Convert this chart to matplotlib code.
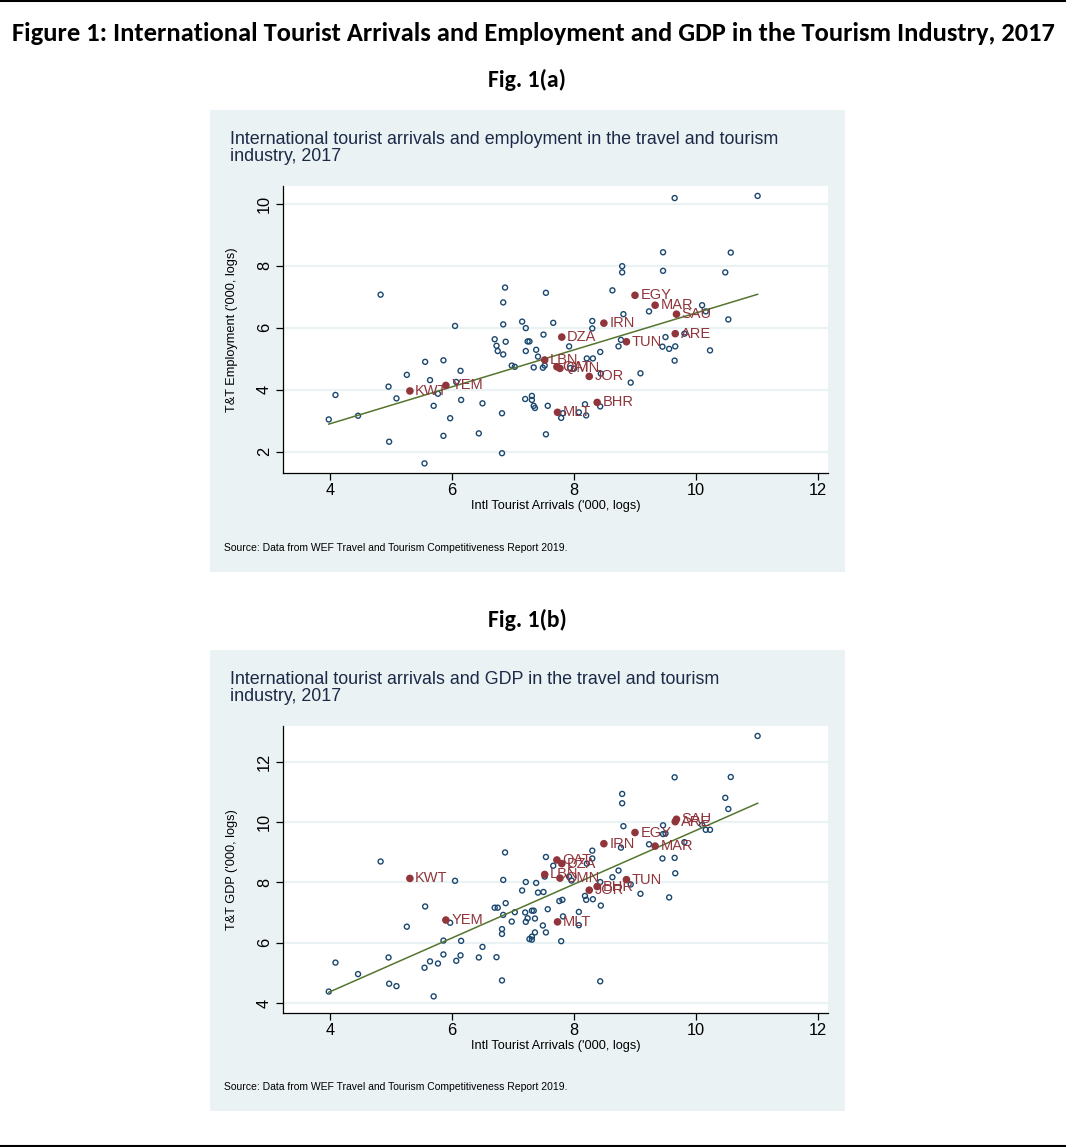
import numpy as np
import matplotlib
matplotlib.use("Agg")
import matplotlib.pyplot as plt
from matplotlib.patches import Rectangle
from matplotlib.lines import Line2D
from matplotlib import font_manager as fm

# ---------------- data ----------------
# Fig 1(a): log arrivals vs log T&T employment (unlabelled countries)
emp_x = [3.98, 4.09, 4.46, 4.83, 4.97, 4.96, 5.09, 5.26, 5.56, 5.55, 5.64, 5.70, 5.77, 5.86, 5.86,
         5.97, 6.05, 6.07, 6.14, 6.15, 6.44, 6.50, 6.70, 6.73, 6.75, 6.84, 6.82, 6.82, 6.84, 6.87,
         6.84, 6.88, 6.98, 7.03, 7.15, 7.21, 7.24, 7.27, 7.21, 7.20, 7.31, 7.31, 7.34, 7.36, 7.38,
         7.41, 7.34, 7.49, 7.52, 7.50, 7.54, 7.57, 7.54, 7.66, 7.92, 7.94, 8.00, 8.21, 8.31, 8.43,
         8.30, 8.30, 8.44, 8.63, 8.79, 8.79, 8.81, 8.77, 8.73, 8.93, 9.09, 9.23, 9.46, 9.46, 9.50,
         9.45, 9.56, 9.66, 9.65, 9.65, 9.81, 10.10, 10.16, 10.23, 10.48, 10.57, 10.53, 11.01, 8.43,
         8.18, 8.20, 7.79, 7.82, 8.08]
emp_y = [3.04, 3.83, 3.16, 7.07, 2.32, 4.10, 3.72, 4.48, 4.90, 1.62, 4.31, 3.48, 3.87, 4.95, 2.51,
         3.08, 6.06, 4.25, 4.61, 3.67, 2.59, 3.56, 5.63, 5.42, 5.25, 5.14, 3.24, 1.95, 6.82, 7.30,
         6.11, 5.55, 4.78, 4.74, 6.20, 5.99, 5.56, 5.56, 5.25, 3.70, 3.80, 3.67, 3.48, 3.41, 5.29,
         5.07, 4.72, 4.71, 4.78, 5.78, 7.13, 3.48, 2.56, 6.16, 5.40, 4.70, 4.68, 5.01, 5.01, 5.22,
         5.98, 6.22, 4.52, 7.21, 7.99, 7.79, 6.44, 5.61, 5.40, 4.23, 4.53, 6.53, 8.44, 7.84, 5.70,
         5.39, 5.32, 5.40, 4.94, 10.19, 5.81, 6.73, 6.53, 5.27, 7.79, 8.43, 6.27, 10.26, 3.46,
         3.53, 3.17, 3.09, 3.24, 3.27]

# Fig 1(a): highlighted MENA countries
emp_codes = ["KWT", "YEM", "LBN", "QAT", "OMN", "DZA", "IRN", "JOR", "TUN", "EGY", "MAR", "SAU", "ARE", "BHR", "MLT"]
emp_hx = [5.31, 5.90, 7.52, 7.72, 7.77, 7.80, 8.49, 8.25, 8.86, 9.00, 9.33, 9.68, 9.66, 8.38, 7.73]
emp_hy = [3.96, 4.14, 4.96, 4.74, 4.69, 5.70, 6.15, 4.43, 5.55, 7.05, 6.73, 6.44, 5.81, 3.59, 3.27]

# Fig 1(b): log arrivals vs log T&T GDP (unlabelled countries)
gdp_x = [3.98, 4.09, 4.46, 4.83, 4.97, 4.96, 5.09, 5.26, 5.56, 5.55, 5.64, 5.70, 5.77, 5.86, 5.86,
         5.97, 6.05, 6.07, 6.14, 6.15, 6.44, 6.50, 6.70, 6.73, 6.75, 6.84, 6.82, 6.82, 6.82, 6.84,
         6.87, 6.88, 6.98, 7.03, 7.15, 7.21, 7.20, 7.24, 7.21, 7.27, 7.31, 7.31, 7.31, 7.34, 7.36,
         7.36, 7.38, 7.41, 7.50, 7.49, 7.54, 7.57, 7.54, 7.66, 7.52, 7.79, 7.82, 7.76, 7.81, 7.92,
         7.96, 8.08, 8.08, 8.18, 8.20, 8.21, 8.30, 8.30, 8.31, 8.43, 8.44, 8.43, 8.63, 8.73, 8.77,
         8.79, 8.79, 8.81, 8.93, 9.09, 9.23, 9.46, 9.46, 9.50, 9.45, 9.56, 9.65, 9.66, 9.65, 9.81,
         10.10, 10.16, 10.23, 10.48, 10.57, 10.53, 11.01]
gdp_y = [4.38, 5.34, 4.96, 8.69, 4.64, 5.51, 4.56, 6.53, 7.20, 5.17, 5.38, 4.22, 5.31, 6.07, 5.61,
         6.66, 8.05, 5.40, 5.58, 6.06, 5.51, 5.86, 7.16, 5.52, 7.16, 6.92, 6.45, 6.29, 4.75, 8.08,
         8.99, 7.31, 6.70, 7.01, 7.73, 8.01, 7.00, 6.81, 6.69, 6.12, 6.10, 6.20, 7.06, 7.06, 6.80,
         6.34, 7.98, 7.66, 7.68, 6.57, 6.34, 7.11, 8.84, 8.55, 8.19, 6.05, 6.87, 7.38, 7.42, 8.19,
         8.06, 7.02, 6.58, 7.55, 7.42, 8.62, 8.79, 9.05, 7.44, 8.01, 7.23, 4.72, 8.17, 8.39, 9.15,
         10.93, 10.62, 9.86, 7.93, 7.62, 9.26, 9.89, 9.60, 9.62, 8.79, 7.50, 8.81, 8.30, 11.48, 9.33,
         9.90, 9.74, 9.74, 10.80, 11.49, 10.43, 12.85]

# Fig 1(b): highlighted MENA countries
gdp_codes = ["KWT", "YEM", "LBN", "QAT", "DZA", "OMN", "MLT", "JOR", "BHR", "IRN", "TUN", "EGY", "MAR", "SAU", "ARE"]
gdp_hx = [5.31, 5.90, 7.52, 7.72, 7.80, 7.77, 7.73, 8.25, 8.38, 8.49, 8.86, 9.00, 9.33, 9.68, 9.66]
gdp_hy = [8.13, 6.75, 8.26, 8.74, 8.62, 8.14, 6.69, 7.74, 7.86, 9.28, 8.09, 9.65, 9.20, 10.09, 10.01]

x_ticks = [4, 6, 8, 10, 12]
emp_ticks = [2, 4, 6, 8, 10]
gdp_ticks = [4, 6, 8, 10, 12]

# ---------------- style ----------------
W, H = 1066, 1147
NAVY = "#1a476f"
MAROON = "#90353b"
GREEN = "#55752f"
BG = "#eaf2f3"
TITLECOL = "#1c2a48"

names = {f.name for f in fm.fontManager.ttflist}
def pick(*cands):
    for c in cands:
        if c in names:
            return c
    return "DejaVu Sans"

HEAD = pick("Carlito", "Calibri", "Lato", "Open Sans")
ARIAL = pick("Liberation Sans", "Arial", "DejaVu Sans")
NARROW = pick("Liberation Sans Narrow", "Arial Narrow", "Liberation Sans")

fig = plt.figure(figsize=(W / 100, H / 100), dpi=100)
fig.patch.set_facecolor("white")

def fx(px):
    return px / W

def fy(py):
    return 1 - py / H

# horizontal rules at top and bottom
for yy in (1.0, 1145.5):
    fig.add_artist(Line2D([0, 1], [fy(yy), fy(yy)], transform=fig.transFigure, color="black", lw=1.5))

fig.text(0.5, fy(33.5), "Figure 1: International Tourist Arrivals and Employment and GDP in the Tourism Industry, 2017",
         ha="center", va="center", fontsize=19.1, fontweight="bold", family=HEAD)
fig.text(fx(527), fy(80), "Fig. 1(a)", ha="center", va="center", fontsize=17, fontweight="bold", family=HEAD)
fig.text(fx(527), fy(620), "Fig. 1(b)", ha="center", va="center", fontsize=17, fontweight="bold", family=HEAD)


def panel(box_top, box_bot, ax_top, title, ylabel, hx_all, hy_all, codes, hx, hy, yticks, ylim):
    # outer region
    fig.add_artist(Rectangle((fx(210), fy(box_bot)), fx(845) - fx(210), fy(box_top) - fy(box_bot),
                             transform=fig.transFigure, facecolor=BG, edgecolor="none", zorder=0))
    fig.text(fx(230), fy(box_top + 21), title, ha="left", va="top", fontsize=12.85, family=ARIAL,
             color=TITLECOL, linespacing=1.0)
    fig.text(fx(224), fy(box_bot - 24), "Source: Data from WEF Travel and Tourism Competitiveness Report 2019.",
             ha="left", va="center", fontsize=7.5, family=NARROW, color="black")

    ax = fig.add_axes([fx(283), fy(ax_top + 287), fx(828) - fx(283), 287 / H])
    ax.set_facecolor("white")
    ax.set_zorder(2)
    for s in ("top", "right"):
        ax.spines[s].set_visible(False)
    for s in ("left", "bottom"):
        ax.spines[s].set_color("black")
        ax.spines[s].set_linewidth(0.9)

    ax.set_xlim(3.23, 12.164)
    ax.set_ylim(*ylim)
    ax.set_xticks(x_ticks)
    ax.set_yticks(yticks)
    ax.grid(axis="y", color=BG, lw=1.6)
    ax.set_axisbelow(True)
    ax.tick_params(axis="both", length=5, width=0.9, color="black", labelsize=11.8)
    ax.tick_params(axis="x", pad=2.5)
    ax.tick_params(axis="y", pad=3)
    for lab in ax.get_yticklabels():
        lab.set_rotation(90)
        lab.set_va("center")
    for lab in ax.get_xticklabels() + ax.get_yticklabels():
        lab.set_family(ARIAL)

    ax.set_xlabel("Intl Tourist Arrivals ('000, logs)", fontsize=9.2, family=NARROW, labelpad=1)
    ax.set_ylabel(ylabel, fontsize=9.2, family=NARROW)
    ax.yaxis.set_label_coords(-45 / 545, 0.5)

    ax.scatter(hx_all, hy_all, s=13, facecolors="none", edgecolors=NAVY, linewidths=1.0, zorder=3)

    allx = np.array(list(hx_all) + list(hx))
    ally = np.array(list(hy_all) + list(hy))
    b, a = np.polyfit(allx, ally, 1)
    xs = np.array([allx.min(), allx.max()])
    ax.plot(xs, a + b * xs, color=GREEN, lw=1.1, zorder=4)

    ax.scatter(hx, hy, s=30, color=MAROON, edgecolors="none", zorder=5)
    for c, x, y in zip(codes, hx, hy):
        ax.annotate(c, (x, y), xytext=(3.8, 0), textcoords="offset points", ha="left", va="center",
                    fontsize=10.5, family=ARIAL, color=MAROON, zorder=6)
    return ax


panel(110, 572, 186,
      "International tourist arrivals and employment in the travel and tourism\nindustry, 2017",
      "T&T Employment ('000, logs)", emp_x, emp_y, emp_codes, emp_hx, emp_hy, emp_ticks, (1.31, 10.58))

panel(650, 1111, 726,
      "International tourist arrivals and GDP in the travel and tourism\nindustry, 2017",
      "T&T GDP ('000, logs)", gdp_x, gdp_y, gdp_codes, gdp_hx, gdp_hy, gdp_ticks, (3.67, 13.18))

fig.savefig("out.png", dpi=100)
